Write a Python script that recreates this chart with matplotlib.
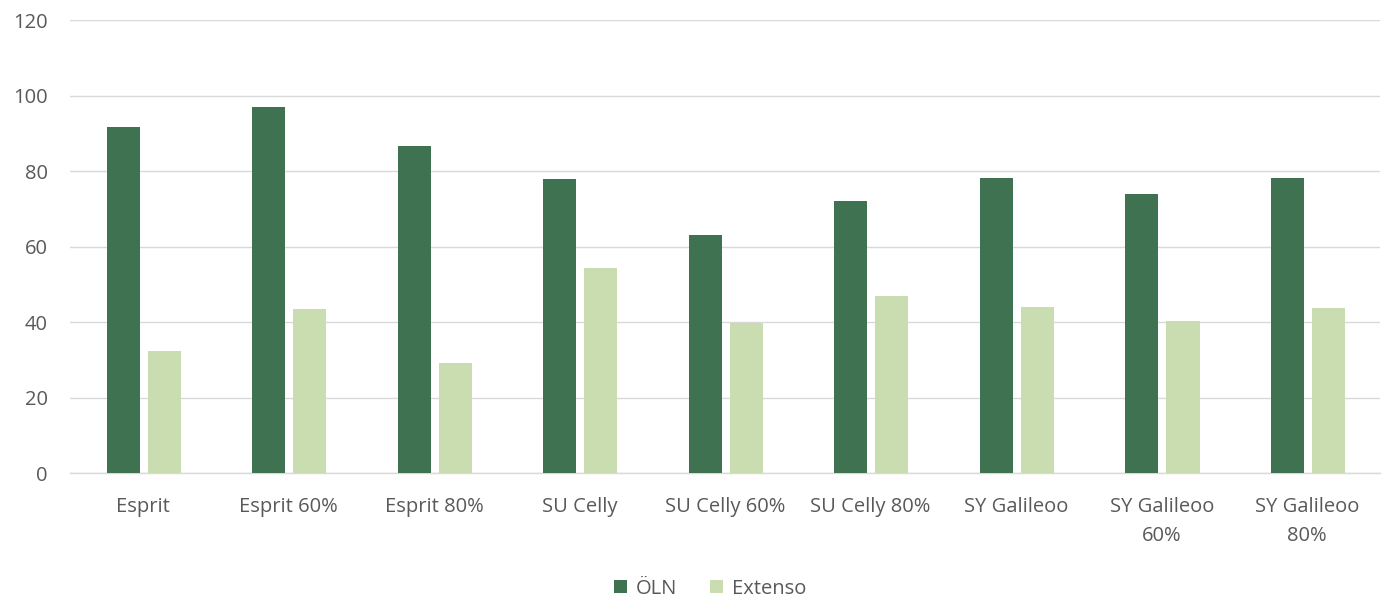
import numpy as np
import matplotlib
matplotlib.use('Agg')
import matplotlib.pyplot as plt

plt.rcParams['font.family'] = ['Open Sans', 'DejaVu Sans']

# 数据
categories = ['Esprit', 'Esprit 60%', 'Esprit 80%', 'SU Celly', 'SU Celly 60%',
              'SU Celly 80%', 'SY Galileoo', 'SY Galileoo\n60%', 'SY Galileoo\n80%']
oln = [91.7, 97.0, 86.6, 77.9, 63.0, 72.1, 78.1, 73.9, 78.1]
extenso = [32.3, 43.4, 29.1, 54.3, 39.7, 46.9, 44.0, 40.3, 43.7]

dark = '#3E7250'
light = '#C9DDB0'
text_color = '#595959'

fig = plt.figure(figsize=(13.87, 5.96), dpi=100)
ax = fig.add_axes([0.0505, 0.206, 0.9445, 0.76])

x = np.arange(len(categories))
w = 0.227
off = 0.141
ax.bar(x - off + 0.005, oln, w, color=dark, label='ÖLN', zorder=3)
ax.bar(x + off + 0.005, extenso, w, color=light, label='Extenso', zorder=3)

ax.set_xlim(-0.5, len(categories) - 0.5)
ax.set_ylim(0, 120)
ax.set_yticks(range(0, 121, 20))
ax.yaxis.grid(True, color='#D9D9D9', linewidth=1, zorder=0)
ax.set_axisbelow(True)

for s in ['top', 'right', 'left']:
    ax.spines[s].set_visible(False)
ax.spines['bottom'].set_color('#D9D9D9')
ax.spines['bottom'].set_linewidth(1)

ax.set_xticks(x)
ax.set_xticklabels(categories, linespacing=1.6)
ax.tick_params(axis='both', length=0, labelsize=14.5, colors=text_color)
ax.tick_params(axis='x', pad=17)
ax.tick_params(axis='y', pad=16)

leg = fig.legend(loc='lower center', bbox_to_anchor=(0.512, -0.035), ncol=2, frameon=False,
                 fontsize=14.5, handlelength=0.65, handleheight=0.65, handletextpad=0.45,
                 columnspacing=1.6)
for t in leg.get_texts():
    t.set_color(text_color)

fig.savefig('out.png', dpi=100)
